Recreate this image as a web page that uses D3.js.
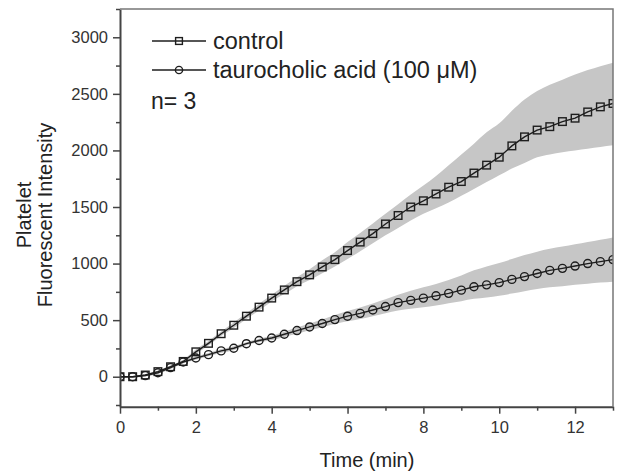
<!DOCTYPE html>
<html>
<head>
<meta charset="utf-8">
<script src="https://cdn.jsdelivr.net/npm/d3@7"></script>
<style>
  body { margin: 0; background: #fff; }
</style>
</head>
<body>
<div id="chart"></div>
<script>
// sample times in seconds (one reading every 20 s)
const timeSec = [0,20,40,60,80,100,120,140,160,180,200,220,240,260,280,300,320,340,360,380,
                 400,420,440,460,480,500,520,540,560,580,600,620,640,660,680,700,720,740,760,780];

const controlMean = [0,0,15,45,88,135,220,295,380,455,535,615,695,767,840,900,970,1035,1115,1190,
                     1265,1350,1425,1500,1555,1615,1675,1725,1800,1870,1940,2040,2120,2180,2210,2255,2285,2340,2385,2415];
const controlHigh = [5,5,22,55,100,150,240,315,400,480,560,645,725,805,880,950,1030,1100,1190,1270,
                     1355,1440,1525,1610,1690,1775,1870,1965,2060,2160,2240,2350,2450,2525,2580,2625,2670,2710,2745,2775];
const controlLow  = [-5,-5,8,35,76,120,200,275,360,430,510,585,665,730,800,855,915,975,1040,1110,
                     1180,1250,1315,1380,1440,1490,1540,1600,1660,1720,1780,1840,1890,1940,1965,1985,2000,2015,2030,2045];

const tauroMean = [0,0,10,35,80,130,165,195,228,252,292,320,342,375,408,440,470,505,535,560,
                   590,620,655,675,695,715,737,765,795,812,832,860,885,912,940,958,978,1000,1017,1035];
const tauroHigh = [5,5,18,45,92,142,180,210,245,270,305,335,362,398,435,470,505,545,580,612,
                   648,685,725,760,790,820,855,895,940,975,1005,1040,1075,1105,1130,1150,1170,1190,1210,1230];
const tauroLow  = [-5,-5,3,25,68,118,150,180,211,234,278,305,322,352,380,410,437,465,490,510,
                   535,560,585,600,615,630,650,668,688,700,715,735,755,775,790,800,812,822,832,840];

const seriesNames = ['control', 'taurocholic acid (100 μM)'];
const xTicks = [0,2,4,6,8,10,12];
const xMinor = [1,3,5,7,9,11,13];
const yTicks = [0,500,1000,1500,2000,2500,3000];
const yMinor = [-250,250,750,1250,1750,2250,2750,3250];

const font = 'Liberation Sans, Arial, sans-serif';
const ink = '#1e1e1e';

const svg = d3.select('#chart')
  .append('svg')
    .attr('width', 624)
    .attr('height', 475)
    .attr('font-family', font);

const x = d3.scaleLinear().domain([0, 13]).range([120, 613]);
const y = d3.scaleLinear().domain([-265, 3250]).range([406.7, 9]);

const series = [
  {name: seriesNames[0], mean: controlMean, high: controlHigh, low: controlLow, shape: 'square'},
  {name: seriesNames[1], mean: tauroMean, high: tauroHigh, low: tauroLow, shape: 'circle'}
].map(s => ({...s, pts: timeSec.map((t, i) => ({t: t / 60, m: s.mean[i], hi: s.high[i], lo: s.low[i]}))}));

svg.append('clipPath').attr('id', 'plotclip')
  .append('rect')
    .attr('x', x(0)).attr('y', y(3250))
    .attr('width', x(13) - x(0)).attr('height', y(-265) - y(3250));

const plot = svg.append('g').attr('clip-path', 'url(#plotclip)');

const band = d3.area()
  .x(d => x(d.t))
  .y0(d => y(d.lo))
  .y1(d => y(d.hi))
  .curve(d3.curveMonotoneX);

plot.selectAll('path.band')
  .data(series)
  .enter().append('path')
    .attr('class', 'band')
    .attr('d', d => band(d.pts))
    .attr('fill', '#c6c6c6');

const line = d3.line().x(d => x(d.t)).y(d => y(d.m));

plot.selectAll('path.mean')
  .data(series)
  .enter().append('path')
    .attr('class', 'mean')
    .attr('d', d => line(d.pts))
    .attr('fill', 'none')
    .attr('stroke', ink)
    .attr('stroke-width', 1.4);

function drawMarker(g, shape, cx, cy, size) {
  if (shape === 'square') {
    g.append('rect')
      .attr('x', cx - size / 2).attr('y', cy - size / 2)
      .attr('width', size).attr('height', size)
      .attr('fill', 'none').attr('stroke', ink).attr('stroke-width', 1.4);
  } else {
    g.append('circle')
      .attr('cx', cx).attr('cy', cy).attr('r', size / 2 + 0.2)
      .attr('fill', 'none').attr('stroke', ink).attr('stroke-width', 1.4);
  }
}

series.forEach(s => {
  const g = plot.append('g');
  s.pts.forEach(p => drawMarker(g, s.shape, x(p.t), y(p.m), 7.6));
});

// axes
const xAxisGroup = svg.append('g').attr('transform', `translate(0,${y(-265)})`);
xAxisGroup.call(d3.axisBottom(x).tickValues(xTicks).tickFormat(d3.format('d'))
  .tickSize(7).tickPadding(8).tickSizeOuter(0));
svg.append('g').attr('transform', `translate(0,${y(-265)})`)
  .call(d3.axisBottom(x).tickValues(xMinor).tickSize(4).tickFormat(''))
  .call(g => g.select('.domain').remove());

const yAxisGroup = svg.append('g').attr('transform', `translate(${x(0)},0)`);
yAxisGroup.call(d3.axisLeft(y).tickValues(yTicks).tickFormat(d3.format('d'))
  .tickSize(7).tickPadding(5).tickSizeOuter(0));
svg.append('g').attr('transform', `translate(${x(0)},0)`)
  .call(d3.axisLeft(y).tickValues(yMinor).tickSize(4).tickFormat(''))
  .call(g => g.select('.domain').remove());

svg.selectAll('.tick line').attr('stroke', '#444').attr('stroke-width', 1.5);
svg.selectAll('.tick text')
  .attr('font-size', 16.5)
  .attr('font-family', font)
  .attr('fill', '#333');
svg.selectAll('.domain').attr('stroke', '#444').attr('stroke-width', 2);

// top and right frame
svg.append('path')
  .attr('d', `M${x(0)},${y(3250)}H${x(13)}V${y(-265)}`)
  .attr('fill', 'none')
  .attr('stroke', '#777')
  .attr('stroke-width', 1.5);

// legend
const legendY = [41, 70];
series.forEach((s, i) => {
  const g = svg.append('g');
  g.append('line')
    .attr('x1', 152).attr('x2', 206)
    .attr('y1', legendY[i]).attr('y2', legendY[i])
    .attr('stroke', ink).attr('stroke-width', 1.4);
  drawMarker(g, s.shape, 179, legendY[i], 6.8);
  g.append('text')
    .attr('x', 213).attr('y', legendY[i] + 7.5)
    .attr('font-size', 23.5)
    .attr('fill', '#222')
    .text(s.name);
});
svg.append('text')
  .attr('x', 151).attr('y', 109)
  .attr('font-size', 23)
  .attr('fill', '#222')
  .text('n= 3');

// axis titles
svg.append('text')
  .attr('x', 367).attr('y', 467)
  .attr('text-anchor', 'middle')
  .attr('font-size', 20)
  .attr('fill', '#222')
  .text('Time (min)');

svg.append('text')
  .attr('transform', 'translate(31,215) rotate(-90)')
  .attr('text-anchor', 'middle')
  .attr('font-size', 20)
  .attr('fill', '#222')
  .text('Platelet');
svg.append('text')
  .attr('transform', 'translate(52,215) rotate(-90)')
  .attr('text-anchor', 'middle')
  .attr('font-size', 20)
  .attr('fill', '#222')
  .text('Fluorescent Intensity');
</script>
</body>
</html>
